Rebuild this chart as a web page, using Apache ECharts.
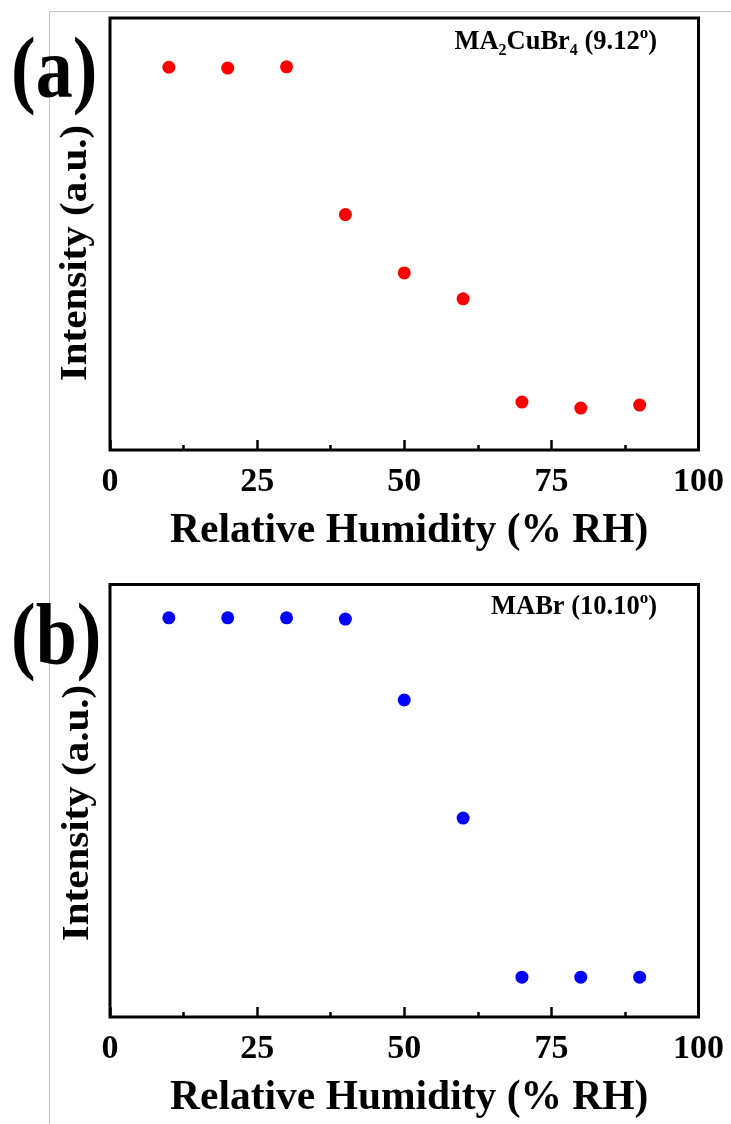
<!DOCTYPE html>
<html>
<head>
<meta charset="utf-8">
<script src="https://cdn.jsdelivr.net/npm/echarts@6/dist/echarts.min.js"></script>
<style>
html,body{margin:0;padding:0;background:#fff;}
#chart{width:731px;height:1124px;}
</style>
</head>
<body>
<div id="chart"></div>
<script>
// Data
var humidity = [10, 20, 30, 40, 50, 60, 70, 80, 90];
var intensityMA2CuBr4 = [88.6, 88.4, 88.7, 54.5, 41.0, 35.0, 11.1, 9.7, 10.4];
var intensityMABr = [92.3, 92.3, 92.3, 92.0, 73.3, 46.0, 9.2, 9.2, 9.2];
var xTicks = [0, 25, 50, 75, 100];
var panelLabels = ['(a)', '(b)'];
var xTitle = 'Relative Humidity (% RH)';
var yTitle = 'Intensity (a.u.)';

var FONT = '"Liberation Serif", "Times New Roman", serif';

function pairs(xs, ys) { return xs.map(function (x, i) { return [x, ys[i]]; }); }

function xAxisCfg(idx) {
  return {
    gridIndex: idx, type: 'value', min: xTicks[0], max: xTicks[xTicks.length - 1],
    interval: xTicks[1] - xTicks[0],
    name: xTitle, nameLocation: 'middle', nameGap: 60,
    nameTextStyle: { fontFamily: FONT, fontWeight: 'bold', fontSize: 41.5, color: '#000', padding: [0, 0, 0, 10] },
    axisLine: { show: false },
    axisTick: { show: true, inside: true, length: 10, lineStyle: { color: '#000', width: 2.5 } },
    minorTick: { show: true, splitNumber: 2, length: 5, lineStyle: { color: '#000', width: 2.5 } },
    splitLine: { show: false }, minorSplitLine: { show: false },
    axisLabel: { margin: 15, fontFamily: FONT, fontWeight: 'bold', fontSize: 34, color: '#000' }
  };
}
function yAxisCfg(idx) {
  return {
    gridIndex: idx, type: 'value', min: 0, max: 100,
    axisLine: { show: false }, axisTick: { show: false }, axisLabel: { show: false },
    splitLine: { show: false }
  };
}

function richStyle() {
  return {
    m: { fontFamily: FONT, fontWeight: 'bold', fontSize: 26.5, lineHeight: 34, fill: '#000', color: '#000' },
    s: { fontFamily: FONT, fontWeight: 'bold', fontSize: 16, lineHeight: 16, verticalAlign: 'bottom', fill: '#000', color: '#000' },
    p: { fontFamily: FONT, fontWeight: 'bold', fontSize: 17, lineHeight: 17, verticalAlign: 'top', fill: '#000', color: '#000' }
  };
}

function yTitleText(cx, cy) {
  return { type: 'text', z: 10, x: cx, y: cy, rotation: Math.PI / 2, scaleX: 1.08, scaleY: 1,
    style: { text: yTitle, font: 'bold 38px ' + FONT, fill: '#000', textAlign: 'center', textVerticalAlign: 'middle' } };
}

var chart = echarts.init(document.getElementById('chart'), null, { renderer: 'canvas' });
chart.setOption({
  backgroundColor: '#fff',
  animation: false,
  grid: [
    { left: 110, right: 32.5, top: 18, height: 432, show: true, borderWidth: 3, borderColor: '#000', backgroundColor: 'transparent' },
    { left: 110, right: 32.5, top: 584.5, height: 432.5, show: true, borderWidth: 3, borderColor: '#000', backgroundColor: 'transparent' }
  ],
  xAxis: [xAxisCfg(0), xAxisCfg(1)],
  yAxis: [yAxisCfg(0), yAxisCfg(1)],
  series: [
    { type: 'scatter', xAxisIndex: 0, yAxisIndex: 0, symbol: 'circle', symbolSize: 13,
      itemStyle: { color: '#ff0000', opacity: 1 }, data: pairs(humidity, intensityMA2CuBr4) },
    { type: 'scatter', xAxisIndex: 1, yAxisIndex: 1, symbol: 'circle', symbolSize: 13,
      itemStyle: { color: '#0000ff', opacity: 1 }, data: pairs(humidity, intensityMABr) }
  ],
  graphic: [
    { type: 'line', z: 0, shape: { x1: 49.5, y1: 11.5, x2: 49.5, y2: 1124 }, style: { stroke: '#c4c4c4', lineWidth: 1 } },
    { type: 'line', z: 0, shape: { x1: 49.5, y1: 11.5, x2: 731, y2: 11.5 }, style: { stroke: '#c4c4c4', lineWidth: 1 } },
    { type: 'text', z: 10, x: 11, y: 31, scaleY: 1.17, style: { text: panelLabels[0], font: 'bold 74px ' + FONT, fill: '#000' } },
    { type: 'text', z: 10, x: 11, y: 597, scaleY: 1.17, style: { text: panelLabels[1], font: 'bold 74px ' + FONT, fill: '#000' } },
    yTitleText(76, 253),
    yTitleText(78, 813),
    { type: 'text', z: 10, right: 74, top: 25,
      style: { text: '{m|MA}{s|2}{m|CuBr}{s|4}{m| (9.12}{p|o}{m|)}', rich: richStyle() } },
    { type: 'text', z: 10, right: 74, top: 590,
      style: { text: '{m|MABr (10.10}{p|o}{m|)}', rich: richStyle() } }
  ]
});
</script>
</body>
</html>
